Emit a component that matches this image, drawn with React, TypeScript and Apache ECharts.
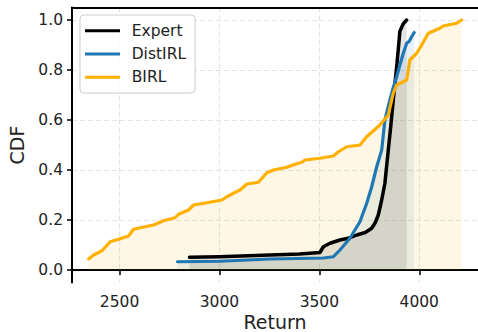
import React, { useEffect, useRef } from "react";
import * as echarts from "echarts";

const expertReturn = [2850, 3000, 3253, 3400, 3487, 3503, 3520, 3553, 3603, 3650, 3687, 3730, 3762, 3780, 3795, 3812, 3828, 3845, 3858, 3870, 3887, 3897, 3903, 3920, 3937];
const expertCdf = [0.051, 0.053, 0.06, 0.064, 0.069, 0.07, 0.093, 0.107, 0.12, 0.128, 0.14, 0.15, 0.167, 0.19, 0.22, 0.28, 0.347, 0.48, 0.58, 0.68, 0.813, 0.9, 0.955, 0.985, 1.0];

const distReturn = [2790, 3003, 3253, 3520, 3570, 3603, 3653, 3703, 3737, 3762, 3787, 3812, 3828, 3853, 3870, 3887, 3903, 3920, 3937, 3950, 3962, 3975];
const distCdf = [0.033, 0.035, 0.044, 0.048, 0.053, 0.08, 0.127, 0.193, 0.267, 0.333, 0.413, 0.48, 0.6, 0.68, 0.73, 0.773, 0.82, 0.867, 0.907, 0.915, 0.933, 0.95];

const birlReturn = [2345, 2370, 2412, 2453, 2495, 2545, 2570, 2603, 2670, 2720, 2778, 2795, 2845, 2870, 2937, 3012, 3037, 3070, 3103, 3137, 3195, 3237, 3270, 3337, 3378, 3412, 3428, 3503, 3570, 3595, 3637, 3703, 3737, 3803, 3845, 3870, 3887, 3937, 3953, 3987, 4012, 4045, 4103, 4120, 4187, 4212];
const birlCdf = [0.044, 0.06, 0.077, 0.113, 0.123, 0.136, 0.163, 0.169, 0.18, 0.197, 0.209, 0.223, 0.24, 0.26, 0.269, 0.28, 0.293, 0.307, 0.32, 0.344, 0.351, 0.389, 0.4, 0.411, 0.423, 0.431, 0.44, 0.447, 0.456, 0.473, 0.493, 0.5, 0.533, 0.58, 0.62, 0.707, 0.74, 0.76, 0.84, 0.867, 0.9, 0.947, 0.967, 0.976, 0.987, 1.0];

const seriesNames = ["Expert", "DistIRL", "BIRL"];
const seriesColors = ["#000000", "#1f77b4", "#ffb000"];
const fillColors = ["rgba(0,0,0,0.1)", "rgba(31,119,180,0.1)", "rgba(255,176,0,0.1)"];
const lineWidths = [3.5, 3.2, 3.2];

const xTicks = [2500, 3000, 3500, 4000];
const yTicks = [0, 0.2, 0.4, 0.6, 0.8, 1.0];

const FONT = "DejaVu Sans";

function zip(xs: number[], ys: number[]) {
  return xs.map((x, i) => [x, ys[i]]);
}

export default function App() {
  const ref = useRef<HTMLDivElement>(null);
  useEffect(() => {
    const chart = echarts.init(ref.current!, null, { renderer: "svg" });
    const datasets = [zip(expertReturn, expertCdf), zip(distReturn, distCdf), zip(birlReturn, birlCdf)];
    const series: any[] = [];
    datasets.forEach((d, i) => {
      series.push({
        name: seriesNames[i] + " fill",
        type: "line",
        data: d,
        symbol: "none",
        silent: true,
        lineStyle: { width: 0 },
        areaStyle: { color: fillColors[i], opacity: 1, origin: "auto" },
        z: 1,
      });
    });
    datasets.forEach((d, i) => {
      series.push({
        name: seriesNames[i],
        type: "line",
        data: d,
        symbol: "none",
        color: seriesColors[i],
        lineStyle: { width: lineWidths[i], color: seriesColors[i], join: "round", cap: "round" },
        z: 3,
      });
    });
    const splitLine = { show: true, lineStyle: { type: [5, 3], color: "#e4e4e4", width: 1.2 } };
    chart.setOption({
      animation: false,
      textStyle: { fontFamily: FONT },
      grid: { left: 72, right: 0, top: 7.5, bottom: 49.5, containLabel: false, outerBoundsMode: "none" },
      legend: {
        data: seriesNames,
        orient: "vertical",
        left: 80,
        top: 15,
        icon: "rect",
        itemWidth: 35,
        itemHeight: 3,
        itemGap: 3.3,
        padding: [5.7, 9, 5.7, 5],
        borderColor: "#cccccc",
        borderWidth: 1,
        borderRadius: 4,
        backgroundColor: "rgba(255,255,255,0.8)",
        textStyle: { fontSize: 15.5, lineHeight: 20, color: "#222", fontFamily: FONT, padding: [0, 0, 0, 6.7] },
      },
      xAxis: [
        {
          type: "value",
          min: 2262,
          max: 4294,
          position: "bottom",
          name: "Return",
          nameLocation: "middle",
          nameGap: 30,
          nameMoveOverlap: false,
          nameTextStyle: { fontSize: 19, color: "#222", fontFamily: FONT },
          axisLine: { show: true, lineStyle: { color: "#000", width: 2 } },
          axisTick: { show: true, inside: false, length: 5, lineStyle: { color: "#000", width: 1.5 }, customValues: xTicks },
          axisLabel: { fontSize: 15.5, color: "#222", margin: 11, customValues: xTicks, fontFamily: FONT, formatter: (v: number) => String(v) },
          splitLine,
        },
        {
          type: "value",
          min: 2262,
          max: 4294,
          position: "top",
          axisLine: { show: true, lineStyle: { color: "#000", width: 2 } },
          axisTick: { show: false },
          axisLabel: { show: false },
          splitLine: { show: false },
        },
      ],
      yAxis: {
        type: "value",
        min: -0.05,
        max: 1.05,
        name: "CDF",
        nameLocation: "middle",
        nameGap: 46,
        nameMoveOverlap: false,
        nameTextStyle: { fontSize: 19, color: "#222", fontFamily: FONT },
        axisLine: { show: true, lineStyle: { color: "#000", width: 2 } },
        axisTick: { show: true, inside: false, length: 5, lineStyle: { color: "#000", width: 1.5 }, customValues: yTicks },
        axisLabel: {
          fontSize: 15.5,
          color: "#222",
          margin: 9,
          customValues: yTicks,
          fontFamily: FONT,
          formatter: (v: number) => v.toFixed(1),
        },
        splitLine,
      },
      series,
    });
    return () => chart.dispose();
  }, []);
  return (
    <div
      ref={ref}
      style={{ position: "fixed", left: 0, top: 0, width: 478, height: 332, background: "#fff" }}
    />
  );
}
